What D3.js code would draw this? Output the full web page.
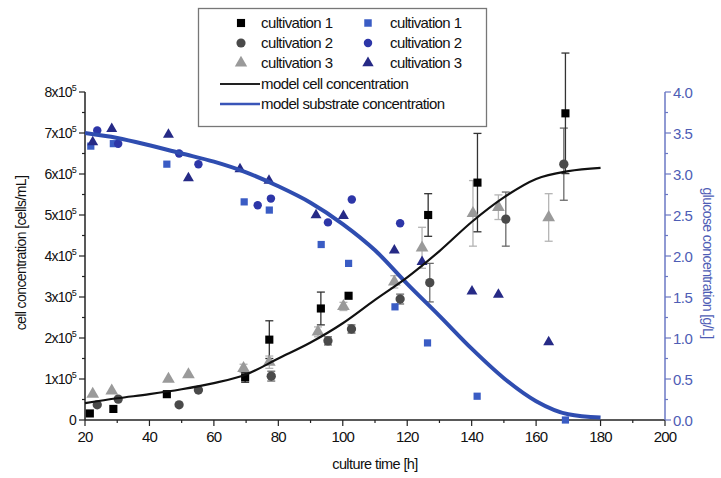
<!DOCTYPE html>
<html>
<head>
<meta charset="utf-8">
<script src="https://cdn.jsdelivr.net/npm/d3@7"></script>
<style>
  html, body { margin: 0; padding: 0; background: #fff; }
  svg { display: block; font-family: "Liberation Sans", Arial, sans-serif; }
</style>
</head>
<body>
<svg id="chart" width="721" height="478"></svg>
<script>
// ---- cell concentration (x10^5 cells/mL) ----
const cellTime1 = [21.5, 28.8, 45.4, 69.7, 77.2, 93.2, 101.8, 126.5, 141.8, 169.1];
const cellConc1 = [0.16, 0.27, 0.63, 1.04, 1.96, 2.72, 3.03, 5.00, 5.79, 7.48];
const cellErr1  = [0, 0, 0, 0.12, 0.46, 0.40, 0, 0.52, 1.20, 1.47];

const cellTime2 = [23.8, 30.3, 49.2, 55.2, 77.8, 95.4, 102.7, 117.8, 127.0, 150.6, 168.6];
const cellConc2 = [0.37, 0.51, 0.37, 0.73, 1.07, 1.93, 2.22, 2.95, 3.35, 4.90, 6.24];
const cellErr2  = [0, 0, 0, 0, 0.12, 0.10, 0.10, 0.12, 0.47, 0.66, 0.88];

const cellTime3 = [22.4, 28.3, 45.9, 52.1, 69.2, 77.2, 92.3, 100.2, 116.0, 124.6, 140.4, 148.3, 163.9];
const cellConc3 = [0.63, 0.71, 1.00, 1.11, 1.26, 1.41, 2.15, 2.77, 3.37, 4.20, 5.04, 5.19, 4.94];
const cellErr3  = [0, 0, 0, 0, 0.10, 0.15, 0.12, 0.10, 0.15, 0.50, 0.80, 0.30, 0.58];

// ---- glucose concentration (g/L) ----
const glcTime1 = [21.8, 28.8, 45.4, 69.4, 77.2, 93.3, 101.8, 116.2, 126.3, 141.7, 169.1];
const glcConc1 = [3.34, 3.37, 3.12, 2.66, 2.56, 2.14, 1.91, 1.38, 0.94, 0.29, 0.00];

const glcTime2 = [23.8, 30.3, 49.2, 55.2, 73.6, 77.7, 95.4, 102.8, 117.8];
const glcConc2 = [3.53, 3.37, 3.25, 3.12, 2.62, 2.70, 2.41, 2.69, 2.40];

const glcTime3 = [22.4, 28.3, 45.9, 52.1, 68.1, 77.1, 91.7, 100.2, 116.0, 124.6, 140.1, 148.3, 163.9];
const glcConc3 = [3.39, 3.55, 3.48, 2.95, 3.06, 2.92, 2.50, 2.49, 2.07, 1.93, 1.57, 1.53, 0.95];

// ---- model curves ----
const modelTime  = [20, 30, 40, 50, 60, 70, 80, 90, 100, 110, 120, 130, 140, 150, 160, 170, 180];
const modelCells = [0.41, 0.53, 0.63, 0.75, 0.90, 1.11, 1.50, 1.89, 2.36, 2.93, 3.48, 4.12, 4.83, 5.43, 5.88, 6.07, 6.15];
const modelGlc   = [3.50, 3.44, 3.35, 3.25, 3.15, 3.02, 2.85, 2.65, 2.39, 2.07, 1.66, 1.27, 0.87, 0.51, 0.23, 0.07, 0.03];

// ---- axis ticks ----
const xTicks = [20, 40, 60, 80, 100, 120, 140, 160, 180, 200];
const leftTicks = [0, 1, 2, 3, 4, 5, 6, 7, 8];
const rightTicks = [0, 0.5, 1.0, 1.5, 2.0, 2.5, 3.0, 3.5, 4.0];

const legendLabels = ["cultivation 1", "cultivation 2", "cultivation 3"];
const modelLabels = ["model cell concentration", "model substrate concentration"];

const svg = d3.select("#chart");
const x = d3.scaleLinear().domain([20, 200]).range([85, 665]);
const yL = d3.scaleLinear().domain([0, 8]).range([420, 92]);
const yR = d3.scaleLinear().domain([0, 4]).range([420, 92]);

const AX = "#222";
const BLUE_AX = "#6b78c4";
const BLUE_TXT = "#4e5db5";

// ---------- axes ----------
// bottom
const gx = svg.append("g").attr("transform", "translate(0,420)");
gx.append("line").attr("x1", 85).attr("x2", 665).attr("stroke", AX).attr("stroke-width", 1.5);
gx.selectAll("line.minor").data(d3.range(30, 200, 20)).join("line")
  .attr("x1", d => x(d)).attr("x2", d => x(d)).attr("y1", 0).attr("y2", 3)
  .attr("stroke", AX).attr("stroke-width", 1.2);
gx.selectAll("line.major").data(xTicks).join("line")
  .attr("x1", d => x(d)).attr("x2", d => x(d)).attr("y1", 0).attr("y2", 6)
  .attr("stroke", AX).attr("stroke-width", 1.2);
gx.selectAll("text").data(xTicks).join("text")
  .attr("x", d => x(d)).attr("y", 22).attr("text-anchor", "middle")
  .attr("font-size", 15).attr("letter-spacing", -0.8).attr("fill", "#111")
  .text(d => d);
svg.append("text").attr("x", 375).attr("y", 469).attr("text-anchor", "middle")
  .attr("font-size", 14.5).attr("letter-spacing", -0.6).attr("fill", "#111")
  .text("culture time [h]");

// left
const gl = svg.append("g");
gl.append("line").attr("x1", 85).attr("x2", 85).attr("y1", 92).attr("y2", 420)
  .attr("stroke", AX).attr("stroke-width", 1.5);
gl.selectAll("line.minor").data(d3.range(0.5, 8, 1)).join("line")
  .attr("x1", 82).attr("x2", 85).attr("y1", d => yL(d)).attr("y2", d => yL(d))
  .attr("stroke", AX).attr("stroke-width", 1.2);
gl.selectAll("line.major").data(leftTicks).join("line")
  .attr("x1", 79).attr("x2", 85).attr("y1", d => yL(d)).attr("y2", d => yL(d))
  .attr("stroke", AX).attr("stroke-width", 1.2);
const ll = gl.selectAll("text").data(leftTicks).join("text")
  .attr("x", 76).attr("y", d => yL(d) + 5).attr("text-anchor", "end")
  .attr("font-size", 14).attr("letter-spacing", -0.8).attr("fill", "#111");
ll.each(function (d) {
  const t = d3.select(this);
  if (d === 0) { t.text("0"); return; }
  t.append("tspan").text(d + "x10");
  t.append("tspan").attr("font-size", 9).attr("dy", -6).text("5");
});
svg.append("text")
  .attr("transform", "translate(26,253) rotate(-90)")
  .attr("text-anchor", "middle").attr("font-size", 14).attr("letter-spacing", -0.6)
  .attr("fill", "#111").text("cell concentration [cells/mL]");

// right
const gr = svg.append("g");
gr.append("line").attr("x1", 665).attr("x2", 665).attr("y1", 92).attr("y2", 420)
  .attr("stroke", BLUE_AX).attr("stroke-width", 1.5);
gr.selectAll("line.minor").data(d3.range(0.25, 4, 0.5)).join("line")
  .attr("x1", 665).attr("x2", 668).attr("y1", d => yR(d)).attr("y2", d => yR(d))
  .attr("stroke", BLUE_AX).attr("stroke-width", 1.2);
gr.selectAll("line.major").data(rightTicks).join("line")
  .attr("x1", 665).attr("x2", 671).attr("y1", d => yR(d)).attr("y2", d => yR(d))
  .attr("stroke", BLUE_AX).attr("stroke-width", 1.2);
gr.selectAll("text").data(rightTicks).join("text")
  .attr("x", 673).attr("y", d => yR(d) + 5.5)
  .attr("font-size", 15).attr("letter-spacing", -0.5).attr("fill", BLUE_TXT)
  .text(d => d.toFixed(1));
svg.append("text")
  .attr("transform", "translate(703,263) rotate(90)")
  .attr("text-anchor", "middle").attr("font-size", 14).attr("letter-spacing", -0.6)
  .attr("fill", BLUE_TXT).text("glucose concentration [g/L]");

// ---------- symbols ----------
function symbolPath(kind, size) {
  const map = { square: d3.symbolSquare, circle: d3.symbolCircle, triangle: d3.symbolTriangle };
  return d3.symbol().type(map[kind]).size(size)();
}

function drawErrors(times, vals, errs, color) {
  const rows = times.map((t, i) => ({ t, v: vals[i], e: errs[i] })).filter(d => d.e > 0);
  const g = svg.append("g").attr("stroke", color).attr("stroke-width", 1.3).attr("fill", "none");
  rows.forEach(d => {
    const cx = x(d.t), y0 = yL(d.v - d.e), y1 = yL(d.v + d.e);
    g.append("line").attr("x1", cx).attr("x2", cx).attr("y1", y0).attr("y2", y1);
    g.append("line").attr("x1", cx - 4).attr("x2", cx + 4).attr("y1", y0).attr("y2", y0);
    g.append("line").attr("x1", cx - 4).attr("x2", cx + 4).attr("y1", y1).attr("y2", y1);
  });
}

function drawPoints(times, vals, scale, kind, size, color) {
  svg.append("g").selectAll("path").data(times.map((t, i) => [t, vals[i]])).join("path")
    .attr("transform", d => `translate(${x(d[0])},${scale(d[1])})`)
    .attr("d", symbolPath(kind, size)).attr("fill", color);
}

const C_SQ = "#000000", C_CI = "#4a4a4a", C_TR = "#9a9a9a";
const B_SQ = "#3a5cc4", B_CI = "#2d36a8", B_TR = "#262a86";

drawErrors(cellTime3, cellConc3, cellErr3, "#b4b4b4");
drawErrors(cellTime2, cellConc2, cellErr2, "#6a6a6a");
drawErrors(cellTime1, cellConc1, cellErr1, "#333333");

drawPoints(cellTime3, cellConc3, yL, "triangle", 70, C_TR);
drawPoints(cellTime2, cellConc2, yL, "circle", 68, C_CI);
drawPoints(cellTime1, cellConc1, yL, "square", 66, C_SQ);

drawPoints(glcTime1, glcConc1, yR, "square", 52, B_SQ);
drawPoints(glcTime2, glcConc2, yR, "circle", 56, B_CI);
drawPoints(glcTime3, glcConc3, yR, "triangle", 52, B_TR);

// ---------- model lines ----------
const cellLine = d3.line().x((d, i) => x(modelTime[i])).y(d => yL(d)).curve(d3.curveMonotoneX);
const glcLine = d3.line().x((d, i) => x(modelTime[i])).y(d => yR(d)).curve(d3.curveMonotoneX);
svg.append("path").attr("d", glcLine(modelGlc)).attr("fill", "none")
  .attr("stroke", "#2f4db0").attr("stroke-width", 4);
svg.append("path").attr("d", cellLine(modelCells)).attr("fill", "none")
  .attr("stroke", "#111").attr("stroke-width", 2.2);

// ---------- legend ----------
const lg = svg.append("g");
lg.append("rect").attr("x", 198.5).attr("y", 8.5).attr("width", 288).attr("height", 118)
  .attr("fill", "#fff").attr("stroke", "#777").attr("stroke-width", 1.3);
const rowY = [23, 43, 63, 84, 104];
const leftKinds = [["square", C_SQ], ["circle", C_CI], ["triangle", C_TR]];
const rightKinds = [["square", B_SQ], ["circle", B_CI], ["triangle", B_TR]];
legendLabels.forEach((lab, i) => {
  lg.append("path").attr("transform", `translate(241,${rowY[i]})`)
    .attr("d", symbolPath(leftKinds[i][0], 66)).attr("fill", leftKinds[i][1]);
  lg.append("text").attr("x", 261).attr("y", rowY[i] + 5).attr("font-size", 15)
    .attr("letter-spacing", -0.6).attr("fill", "#111").text(lab);
  lg.append("path").attr("transform", `translate(368,${rowY[i]})`)
    .attr("d", symbolPath(rightKinds[i][0], 56)).attr("fill", rightKinds[i][1]);
  lg.append("text").attr("x", 390).attr("y", rowY[i] + 5).attr("font-size", 15)
    .attr("letter-spacing", -0.6).attr("fill", "#111").text(lab);
});
const lineColors = ["#222", "#3a55b8"];
const lineWidths = [2, 2.5];
modelLabels.forEach((lab, i) => {
  const yy = rowY[3 + i];
  lg.append("line").attr("x1", 220).attr("x2", 260).attr("y1", yy).attr("y2", yy)
    .attr("stroke", lineColors[i]).attr("stroke-width", lineWidths[i]);
  lg.append("text").attr("x", 261).attr("y", yy + 5).attr("font-size", 15)
    .attr("letter-spacing", -0.6).attr("fill", "#111").text(lab);
});
</script>
</body>
</html>
